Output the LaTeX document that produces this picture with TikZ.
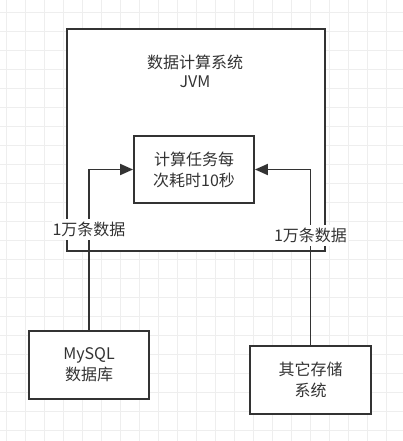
\documentclass[tikz,border=0pt]{standalone}
\usepackage{fontspec}
\setmainfont{Noto Sans CJK SC}
\usetikzlibrary{arrows.meta}
\definecolor{ink}{HTML}{333333}
\definecolor{gridc}{HTML}{EEEEEE}
\begin{document}
\begin{tikzpicture}[x=1pt,y=-1pt,
  box/.style={draw=ink,line width=1.9pt,fill=white,text=ink,align=center,
    font=\fontsize{16}{21}\selectfont,inner sep=0pt},
  txt/.style={text=ink,align=center,font=\fontsize{16}{19}\selectfont,inner sep=0pt},
  conn/.style={draw=ink,line width=1.9pt,-{Triangle[length=13pt,width=11pt]}},
  lbl/.style={fill=white,text=ink,font=\fontsize{16}{18}\selectfont,inner xsep=1pt,inner ysep=3pt}]
\useasboundingbox (0,0) rectangle (403,441);
\fill[white] (0,0) rectangle (403,441);
\foreach \i in {0,...,21} {
  \draw[gridc,line width=1pt] ({6.7+19*\i},0) -- ({6.7+19*\i},441);
}
\foreach \i in {0,...,22} {
  \draw[gridc,line width=1pt] (0,{12.7+19*\i}) -- (403,{12.7+19*\i});
}
\node[box,minimum width=258pt,minimum height=222pt] (outer) at (196,140) {};
\node[txt] (title) at (195,71.5) {数据计算系统\\JVM};
\node[box,minimum width=120pt,minimum height=67pt] (calc) at (194,169.5) {计算任务每\\次耗时10秒};
\node[box,minimum width=120pt,minimum height=68pt] (mysql) at (89,365) {MySQL\\数据库};
\node[box,minimum width=121pt,minimum height=68pt] (other) at (310.5,380) {其它存储\\系统};
\draw[conn] (mysql.north) |- node[lbl,pos=0.314] (l1) {1万条数据} (calc.west);
\draw[conn] (other.north) |- node[lbl,pos=0.3125] (l2) {1万条数据} (calc.east);
\end{tikzpicture}
\end{document}
